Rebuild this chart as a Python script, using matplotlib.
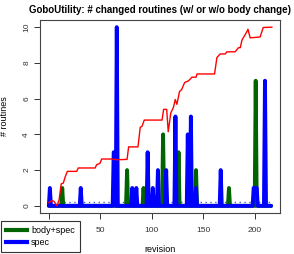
#!/usr/bin/env python3
import numpy as np
import matplotlib
matplotlib.use("Agg")
import matplotlib.pyplot as plt
from matplotlib.lines import Line2D as line

# revisions 0..216, nonzero counts only
n_rev = 217
spec_rev = [1, 31, 63, 64, 66, 81, 85, 96, 101, 106, 114, 123, 135, 138, 143, 167, 199, 200, 201, 202, 210]
spec_val = [1, 1, 3, 3, 10, 1, 1, 3, 1, 2, 2, 5, 4, 5, 1, 2, 1, 1, 1, 1, 7]
body_rev = [13, 76, 92, 111, 126, 143, 175, 201]
body_val = [1, 2, 1, 4, 3, 2, 1, 7]

# red curve
red_x = [0, 3, 5, 8, 10, 12, 14, 16, 18, 27, 28.6, 45, 46.4, 49.7, 51.3, 61, 66.8, 76, 77.5,
         86.6, 88.8, 90.5, 92.7, 110, 111.5, 114.5, 116, 118.5, 121, 122.8, 124.4, 127, 129,
         131.9, 135.8, 139, 143, 144, 161, 163.3, 166.5, 171.4, 173, 181, 184.3, 186, 187.6,
         192.4, 193.5, 195.6, 205.3, 208.3, 216.7]
red_y = [0.18, 0.3, 0.25, 0.0, 0.35, 1.23, 1.27, 1.64, 1.93, 1.93, 2.12, 2.12, 2.3, 2.38, 2.62,
         2.62, 2.58, 2.6, 3.3, 3.3, 4.4, 4.45, 4.8, 4.8, 5.4, 5.4, 4.15, 5.2, 5.5, 5.95, 5.68,
         6.4, 6.5, 6.9, 7.0, 7.2, 7.2, 7.38, 7.38, 8.3, 8.5, 8.5, 8.62, 8.62, 8.85, 8.85, 9.27,
         9.75, 9.88, 9.4, 9.45, 9.98, 10.0]

dot_x = [15, 216]
dot_y = [0.22, 0.22]

x_ticks = [0, 50, 100, 150, 200]
x_labels = ['', '50', '100', '150', '200']	# "0" sits under the legend


def main():
	plt.rcParams['font.family'] = ['Liberation Sans', 'DejaVu Sans']
	rev = np.arange(n_rev)
	spec = np.zeros(n_rev)
	spec[spec_rev] = spec_val
	body = np.zeros(n_rev)
	body[body_rev] = body_val

	fig = plt.figure(figsize=(2.94, 2.54), dpi=100)
	ax = fig.add_axes([40/294, 1-213/254, 240/294, 193/254])

	ax.plot(dot_x, dot_y, color='#4a5acd', linestyle=(0, (1, 2.5)), linewidth=1.0)
	ax.plot(rev, body, color='darkgreen', linewidth=2.8, solid_joinstyle='round', solid_capstyle='round')
	ax.plot(rev, spec, color='blue', linewidth=2.8, solid_joinstyle='round', solid_capstyle='round')
	ax.plot(red_x, red_y, color='red', linewidth=1.0)

	ax.set_xlim(-8.6, 224.6)
	ax.set_ylim(-0.4, 10.4)
	ax.set_xticks(x_ticks, x_labels)
	ax.set_yticks([0, 2, 4, 6, 8, 10])
	ax.tick_params(labelsize=6, length=4, width=0.7, colors='#333333')
	ax.tick_params(axis='x', pad=6)
	ax.tick_params(axis='y', pad=3)
	for t in ax.get_yticklabels():
		t.set_rotation(90)
		t.set_va('center')
	for s in ax.spines.values():
		s.set_color('#444444')
		s.set_linewidth(0.8)

	ax.set_title("GoboUtility: # changed routines (w/ or w/o body change)",
		fontsize=7.0, fontweight='bold', pad=5)
	ax.set_xlabel("revision", fontsize=6.5, labelpad=8)
	ax.set_ylabel("# routines", fontsize=6.5, labelpad=10)

	handles = [line([0], [0], color='darkgreen', linewidth=3, label='body+spec'),
		line([0], [0], color='blue', linewidth=3, label='spec')]
	leg = fig.legend(handles=handles, loc='upper left', bbox_to_anchor=(1/294, 1-221/254),
		fontsize=6.5, frameon=True, fancybox=False, framealpha=1, edgecolor='#333333',
		handlelength=2.3, handletextpad=0.5, borderpad=0.55, labelspacing=0.3, borderaxespad=0)
	leg.get_frame().set_linewidth(0.8)

	fig.savefig("out.png", dpi=100)


if __name__ == "__main__":
	main()
